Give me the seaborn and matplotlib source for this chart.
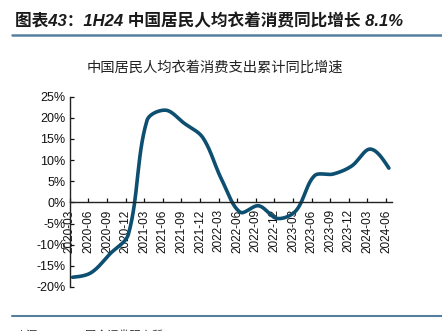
import numpy as np
import pandas as pd
import matplotlib
matplotlib.use("Agg")
import matplotlib.pyplot as plt
import seaborn as sns
from matplotlib.lines import Line2D
from matplotlib.ticker import FuncFormatter

# Per-capita clothing consumption, cumulative YoY growth (%)
quarters = ["2020-03", "2020-06", "2020-09", "2020-12",
            "2021-03", "2021-06", "2021-09", "2021-12",
            "2022-03", "2022-06", "2022-09", "2022-12",
            "2023-03", "2023-06", "2023-09", "2023-12",
            "2024-03", "2024-06"]
growth = [-17.7, -16.6, -12.2, -7.5,
          19.4, 21.8, 18.7, 15.3,
          5.5, -2.3, -0.8, -3.8,
          -2.0, 6.3, 6.7, 8.6,
          12.6, 8.1]
y_ticks = [-20, -15, -10, -5, 0, 5, 10, 15, 20, 25]

LINE_COLOR = "#0d4f70"
RULE_COLOR = "#54809e"

# screen aspect: pixels per category step vs. pixels per percentage point
PX_PER_STEP = 18.6
PX_PER_PCT = 4.23
POINT_OFFSET = 0.15


def smooth_curve(values, steps=30, tension=1 / 3):
    """Bezier path through the points, control arms scaled by chord length
    in screen space (spreadsheet-style smoothed line)."""
    y = np.asarray(values, dtype=float) * PX_PER_PCT
    x = np.arange(len(y), dtype=float) * PX_PER_STEP
    P = np.column_stack([x, y])
    n = len(P)
    c_in = P.copy()
    c_out = P.copy()
    for i in range(1, n - 1):
        d = P[i + 1] - P[i - 1]
        d0 = np.linalg.norm(P[i] - P[i - 1])
        d1 = np.linalg.norm(P[i + 1] - P[i])
        c_in[i] = P[i] - tension * d * d0 / (d0 + d1)
        c_out[i] = P[i] + tension * d * d1 / (d0 + d1)
    c_out[0] = P[0] + (c_in[1] - P[0]) / 2
    c_in[-1] = P[-1] + (c_out[-2] - P[-1]) / 2
    t = np.linspace(0.0, 1.0, steps, endpoint=False)[:, None]
    pts = []
    for i in range(n - 1):
        a, b, c, e = P[i], c_out[i], c_in[i + 1], P[i + 1]
        seg = ((1 - t) ** 3) * a + 3 * ((1 - t) ** 2) * t * b \
            + 3 * (1 - t) * t ** 2 * c + t ** 3 * e
        pts.append(seg)
    pts.append(P[-1:])
    pts = np.vstack(pts)
    return pts[:, 0] / PX_PER_STEP + POINT_OFFSET, pts[:, 1] / PX_PER_PCT


sns.set_theme(style="white")
plt.rcParams["font.family"] = ["Liberation Sans", "Noto Sans CJK SC", "DejaVu Sans"]
plt.rcParams["axes.unicode_minus"] = False

fig = plt.figure(figsize=(4.42, 3.31), dpi=100)
ax = fig.add_axes([0.158, 0.133, 0.729, 0.575])

sx, sy = smooth_curve(growth)
curve = pd.DataFrame({"pos": sx, "growth": sy})
sns.lineplot(data=curve, x="pos", y="growth", ax=ax, color=LINE_COLOR,
             linewidth=2.6, sort=False, estimator=None)

for side in ("top", "right"):
    ax.spines[side].set_visible(False)
ax.spines["bottom"].set_position(("data", 0))
for side in ("left", "bottom"):
    ax.spines[side].set_color("#222222")
    ax.spines[side].set_linewidth(1.0)

ax.set_xlim(0, len(quarters) - 1 + 0.32)
ax.set_ylim(-20, 25)
ax.set_xticks(range(len(quarters)))
ax.set_xticklabels(quarters, rotation=90, fontsize=8.5, color="#111111")
ax.set_yticks(y_ticks)
ax.yaxis.set_major_formatter(FuncFormatter(lambda v, _: f"{int(v)}%"))
ax.tick_params(axis="y", labelsize=9, colors="#111111", direction="in",
               length=3, width=0.9, pad=3, left=True)
ax.tick_params(axis="x", direction="in", length=3, width=0.9, pad=5,
               bottom=True, colors="#111111", labelrotation=90)
ax.set_xlabel("")
ax.set_ylabel("")
ax.grid(False)

fig.text(0.035, 0.937, "图表43：1H24 中国居民人均衣着消费同比增长 8.1%",
         fontsize=12, fontweight="bold", style="italic", color="#1a1a1a",
         va="center", ha="left")
fig.add_artist(Line2D([12 / 442, 1.0], [1 - 35 / 331] * 2,
                      color=RULE_COLOR, linewidth=1.8))
fig.text(0.487, 0.795, "中国居民人均衣着消费支出累计同比增速",
         fontsize=10.3, color="#222222", ha="center", va="center",
         family=["Noto Sans CJK SC", "DejaVu Sans"])
fig.add_artist(Line2D([12 / 442, 1.0], [1 - 316 / 331] * 2,
                      color=RULE_COLOR, linewidth=1.5))
fig.text(0.035, -0.012, "来源：Wind，国金证券研究所", fontsize=8,
         color="#333333", ha="left", va="center")

fig.savefig("out.png", dpi=100)
